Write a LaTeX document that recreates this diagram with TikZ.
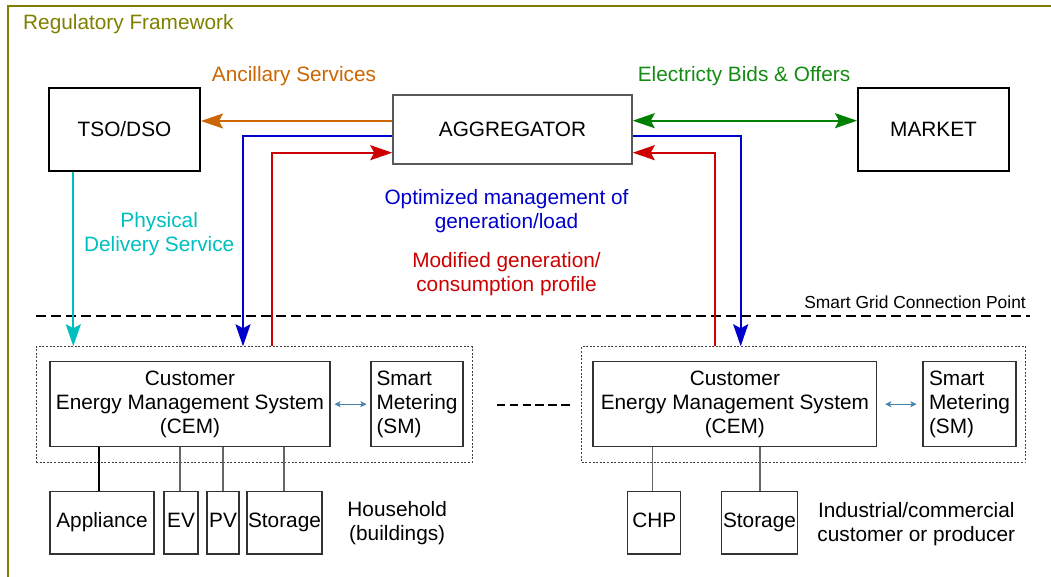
\documentclass[tikz,border=0pt]{standalone}
\usepackage{fontspec}
\setmainfont{Liberation Sans}
\usetikzlibrary{arrows.meta}
\definecolor{frameolive}{RGB}{128,128,0}
\definecolor{ancorange}{RGB}{204,102,0}
\definecolor{bidgreen}{RGB}{0,128,0}
\definecolor{bidtext}{RGB}{20,140,20}
\definecolor{optblue}{RGB}{0,0,204}
\definecolor{modred}{RGB}{204,0,0}
\definecolor{delcyan}{RGB}{0,191,191}
\definecolor{smblue}{RGB}{70,130,170}
\begin{document}
\begin{tikzpicture}[x=1pt,y=-1pt,
  font=\fontsize{20.8}{24}\selectfont,
  bigbox/.style={draw=black, line width=2pt, inner sep=0pt, align=center},
  aggbox/.style={draw=black!65, line width=1.5pt, inner sep=0pt, align=center},
  unitbox/.style={draw=black!80, line width=1.2pt, inner sep=0pt, align=center},
  groupbox/.style={draw=black!75, line width=0.9pt, dash pattern=on 2pt off 1.6pt, inner sep=0pt},
  flow/.style={line width=2pt, >={Stealth[length=22pt,width=15pt,inset=4pt]}, ->},
  both/.style={line width=2pt, >={Stealth[length=22pt,width=15pt,inset=4pt]}, <->},
  link/.style={draw=black!60, line width=1.2pt},
  smlink/.style={draw=smblue, line width=1pt, >={Stealth[length=6pt,width=6pt,inset=1.5pt]}, <->},
  lbl/.style={inner sep=0pt, align=center, anchor=north},
]
\useasboundingbox (0,0) rectangle (1051,577);
\fill[white] (0,0) rectangle (1051,577);
% regulatory frame
\draw[frameolive, line width=2pt] (7.5,590) -- (7.5,6) -- (1060,6);
\node[text=frameolive, anchor=base west, inner sep=0pt] (reg) at (23,30) {Regulatory Framework};

% top level
\node[bigbox, minimum width=151pt, minimum height=83pt] (tso) at (124.5,129.5) {TSO/DSO};
\node[aggbox, minimum width=239pt, minimum height=69pt] (agg) at (512.5,129.5) {AGGREGATOR};
\node[bigbox, minimum width=151pt, minimum height=83pt] (mkt) at (933.5,129.5) {MARKET};

% customer groups
\node[groupbox, minimum width=436pt, minimum height=115.6pt] (hhL) at (254,404.5) {};
\node[unitbox, minimum width=280pt, minimum height=85pt] (cemL) at (190,404.2) {\strut Customer\\\strut Energy Management System\\\strut (CEM)};
\node[unitbox, align=left, minimum width=92pt, minimum height=85pt] (smL) at (417,404.2) {\strut Smart\\\strut Metering\\\strut (SM)};
\node[groupbox, minimum width=444pt, minimum height=115.6pt] (hhR) at (803.7,404.5) {};
\node[unitbox, minimum width=283.7pt, minimum height=85pt] (cemR) at (734.85,404.2) {\strut Customer\\\strut Energy Management System\\\strut (CEM)};
\node[unitbox, align=left, minimum width=93pt, minimum height=85pt] (smR) at (969.5,404.2) {\strut Smart\\\strut Metering\\\strut (SM)};

% devices
\node[unitbox, minimum width=104pt, minimum height=62.3pt] (app) at (102,522.85) {\strut Appliance};
\node[unitbox, minimum width=34pt, minimum height=62.3pt] (ev) at (181,522.85) {\strut EV};
\node[unitbox, minimum width=32pt, minimum height=62.3pt] (pv) at (223,522.85) {\strut PV};
\node[unitbox, minimum width=75pt, minimum height=62.3pt] (stoL) at (284.5,522.85) {\strut Storage};
\node[unitbox, minimum width=53pt, minimum height=62.3pt] (chp) at (654.2,522.85) {\strut CHP};
\node[unitbox, minimum width=75.6pt, minimum height=62.3pt] (stoR) at (759.5,522.85) {\strut Storage};

% labels
\node[text=ancorange, anchor=base, inner sep=0pt] (anclbl) at (294,82) {Ancillary Services};
\node[text=bidtext, anchor=base, inner sep=0pt] (bidlbl) at (744,82) {Electricty Bids \& Offers};
\node[lbl, text=optblue] (optlbl) at (506.5,187.2) {\strut Optimized management of\\\strut generation/load};
\node[lbl, text=modred] (modlbl) at (506.5,250.5) {\strut Modified generation/\\\strut consumption profile};
\node[lbl, text=delcyan] (dellbl) at (159.2,210.9) {\strut Physical\\\strut Delivery Service};
\node[lbl] (hhlbl) at (397.2,499.9) {\strut Household\\\strut (buildings)};
\node[lbl] (indlbl) at (916.3,500.5) {\strut Industrial/commercial\\\strut customer or producer};

% smart grid connection point
\draw[line width=2pt, dash pattern=on 10pt off 5pt] (36,315.7) -- (1030,315.7);
\node[font=\fontsize{17.4}{21}\selectfont, anchor=base east, inner sep=0pt] (sgcp) at (1026,308.3) {Smart Grid Connection Point};

% flows
\coordinate (oA) at ([yshift=8.5pt]agg.west);
\draw[flow, ancorange] (oA) -- (oA -| tso.east);
\coordinate (gA) at ([yshift=8.8pt]agg.east);
\draw[both, bidgreen] (gA) -- (gA -| mkt.west);
\coordinate (bL) at ([yshift=-6.5pt]agg.west);
\draw[flow, optblue] (bL) -| (243,0 |- hhL.north);
\coordinate (rL) at ([yshift=-23.2pt]agg.west);
\draw[flow, modred] (272,0 |- hhL.north) |- (rL);
\coordinate (bR) at ([yshift=-6.5pt]agg.east);
\draw[flow, optblue] (bR) -| (740.7,0 |- hhR.north);
\coordinate (rR) at ([yshift=-23.2pt]agg.east);
\draw[flow, modred] (715,0 |- hhR.north) |- (rR);
\draw[flow, delcyan] (73.3,0 |- tso.south) -- (73.3,0 |- hhL.north);

% CEM <-> SM
\draw[smlink, shorten <=4pt, shorten >=4pt] (cemL.east) -- (smL.west);
\draw[smlink, shorten <=8pt, shorten >=6pt] (cemR.east) -- (smR.west);

% between groups
\draw[line width=2pt, dash pattern=on 8.6pt off 4.3pt] (496.7,405.3) -- (570,405.3);

% device links
\draw[link, draw=black, line width=1.6pt] (99,0 |- cemL.south) -- (99,0 |- app.north);
\draw[link] (180,0 |- cemL.south) -- (180,0 |- ev.north);
\draw[link] (223,0 |- cemL.south) -- (223,0 |- pv.north);
\draw[link] (284,0 |- cemL.south) -- (284,0 |- stoL.north);
\draw[link] (652.7,0 |- cemR.south) -- (652.7,0 |- chp.north);
\draw[link] (760,0 |- cemR.south) -- (760,0 |- stoR.north);
\end{tikzpicture}
\end{document}
